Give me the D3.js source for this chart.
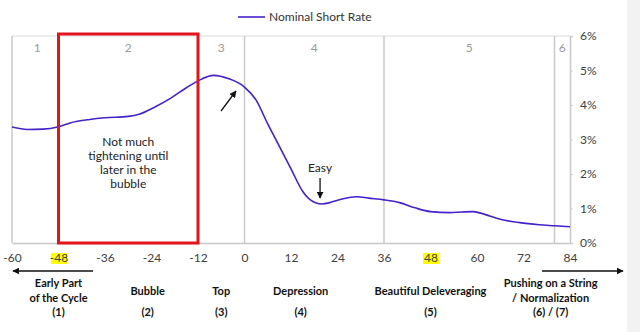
<!DOCTYPE html>
<html>
<head>
<meta charset="utf-8">
<script src="https://cdn.jsdelivr.net/npm/d3@7"></script>
<style>
  html, body { margin: 0; padding: 0; background: #fff; }
  svg { display: block; }
  text { font-family: Lato, "Open Sans", sans-serif; }
</style>
</head>
<body>
<svg id="chart" width="640" height="332"></svg>
<script>
// Months relative to the top of the cycle, and the nominal short rate (%)
const months = [-60,-56,-52,-48,-45,-40,-36,-30,-27,-23,-19,-15,-12,-8,-4,0,3,6,9,12,15,17,20,22,24,27,29,32,36,40,44,48,53,56,59,62,66,71,76,80,84];
const shortRate = [3.36,3.29,3.30,3.37,3.48,3.58,3.63,3.67,3.74,3.95,4.20,4.50,4.70,4.86,4.76,4.52,4.14,3.45,2.80,2.15,1.50,1.25,1.13,1.17,1.24,1.32,1.34,1.30,1.25,1.17,1.02,0.91,0.88,0.90,0.91,0.83,0.69,0.59,0.53,0.50,0.47];

const xTicks = [-60,-48,-36,-24,-12,0,12,24,36,48,60,72,84];
const highlightedTicks = [-48, 48];
const yTicks = [0,1,2,3,4,5,6];

// Phase boundaries (months) and phase numbers placed at their centres
const phaseBounds = [-12, 0, 36, 80];
const phaseNumbers = [
  {label: "1", at: -53.5},
  {label: "2", at: -30},
  {label: "3", at: -6},
  {label: "4", at: 18},
  {label: "5", at: 58},
  {label: "6", at: 82}
];
const bubbleBox = {from: -48, to: -12};
const bubbleNote = ["Not much", "tightening until", "later in the", "bubble"];

// Phase names under the axis
const phaseNames = [
  {lines: ["Early Part", "of the Cycle", "(1)"], at: -48},
  {lines: ["Bubble", "", "(2)"], at: -25},
  {lines: ["Top", "", "(3)"], at: -6},
  {lines: ["Depression", "", "(4)"], at: 14.5},
  {lines: ["Beautiful Deleveraging", "", "(5)"], at: 48},
  {lines: ["Pushing on a String", "/ Normalization", "(6) / (7)"], at: 79}
];

const svg = d3.select("#chart");
const margin = {left: 12, right: 70, top: 36, bottom: 89};
const W = 640, H = 332;

const x = d3.scaleLinear().domain([-60, 84]).range([margin.left, W - margin.right]);
const y = d3.scaleLinear().domain([0, 6]).range([H - margin.bottom, margin.top]);

const lineColor = "#4422cc";
const gridColor = "#c8c8c8";

// thin gray strip at the right edge of the page
svg.append("rect").attr("x", 627).attr("y", 0).attr("width", 13).attr("height", H).attr("fill", "#f2f2f2");

// Arrow marker
const defs = svg.append("defs");
defs.append("marker").attr("id", "arrow").attr("viewBox", "0 0 10 10")
  .attr("refX", 9).attr("refY", 5).attr("markerWidth", 7).attr("markerHeight", 7)
  .attr("markerUnits", "userSpaceOnUse").attr("orient", "auto")
  .append("path").attr("d", "M0,0 L10,5 L0,10 Z").attr("fill", "#111");

// Plot frame: top and left borders
svg.append("line").attr("x1", x(-60)).attr("x2", x(84)).attr("y1", y(6)).attr("y2", y(6))
  .attr("stroke", "#d9d9d9").attr("stroke-width", 1);
svg.append("line").attr("x1", x(-60)).attr("x2", x(-60)).attr("y1", y(6)).attr("y2", y(0))
  .attr("stroke", gridColor).attr("stroke-width", 1.5);

// Phase separators
svg.selectAll(".phase-line").data(phaseBounds).join("line")
  .attr("x1", d => x(d)).attr("x2", d => x(d))
  .attr("y1", y(6)).attr("y2", y(0))
  .attr("stroke", gridColor).attr("stroke-width", 1.5);

// Phase numbers
svg.selectAll(".phase-num").data(phaseNumbers).join("text")
  .attr("x", d => x(d.at)).attr("y", 52)
  .attr("text-anchor", "middle").attr("font-size", 12).attr("fill", "#9a9a9a")
  .text(d => d.label);

// Right-hand y axis
const yAxis = d3.axisRight(y).tickValues(yTicks).tickFormat(d => d + "%").tickSize(3).tickPadding(7);
const yg = svg.append("g").attr("transform", `translate(${x(84)},0)`).call(yAxis);
yg.select(".domain").attr("stroke", gridColor).attr("stroke-width", 1.5);
yg.selectAll(".tick line").attr("stroke", "#d0d0d0");
yg.selectAll(".tick text").attr("font-size", 12).attr("fill", "#404040")
  .attr("font-family", "Lato, 'Open Sans', sans-serif");

// Bottom x axis (plain hyphen for negative months)
const xAxis = d3.axisBottom(x).tickValues(xTicks).tickFormat(d => String(d)).tickSize(0).tickPadding(10);
const xg = svg.append("g").attr("transform", `translate(0,${y(0)})`).call(xAxis);
xg.select(".domain").attr("stroke", gridColor).attr("stroke-width", 1.5);
xg.selectAll(".tick text").attr("font-size", 12).attr("fill", "#404040")
  .attr("font-family", "Lato, 'Open Sans', sans-serif");
xg.selectAll(".tick").filter(d => highlightedTicks.includes(d))
  .insert("rect", "text")
  .attr("x", -8).attr("y", 10).attr("width", 16).attr("height", 11).attr("fill", "#ffff00");

// Short-rate line
const line = d3.line().x((d, i) => x(months[i])).y(d => y(d)).curve(d3.curveMonotoneX);
svg.append("path").datum(shortRate).attr("d", line)
  .attr("fill", "none").attr("stroke", lineColor).attr("stroke-width", 1.6);

// Red box around the bubble phase
svg.append("rect")
  .attr("x", x(bubbleBox.from)).attr("y", y(6) - 2)
  .attr("width", x(bubbleBox.to) - x(bubbleBox.from)).attr("height", y(0) - y(6) + 2)
  .attr("fill", "none").attr("stroke", "#e3141b").attr("stroke-width", 3);

svg.append("text").attr("x", x(-30)).attr("y", 146).attr("text-anchor", "middle")
  .attr("font-size", 12).attr("fill", "#222")
  .selectAll("tspan").data(bubbleNote).join("tspan")
  .attr("x", x(-30)).attr("dy", (d, i) => i === 0 ? 0 : 14).text(d => d);

// Arrow pointing at the top
svg.append("line").attr("x1", 221).attr("y1", 111).attr("x2", 236).attr("y2", 91)
  .attr("stroke", "#111").attr("stroke-width", 1.3).attr("marker-end", "url(#arrow)");

// "Easy" annotation
svg.append("text").attr("x", x(19.5)).attr("y", 172).attr("text-anchor", "middle")
  .attr("font-size", 12).attr("fill", "#222").text("Easy");
svg.append("line").attr("x1", x(19.5)).attr("y1", 178).attr("x2", x(19.5)).attr("y2", 198)
  .attr("stroke", "#111").attr("stroke-width", 1.3).attr("marker-end", "url(#arrow)");

// Arrows under the axis, pointing to earlier and later periods
svg.append("line").attr("x1", 93).attr("y1", 271).attr("x2", 13).attr("y2", 271)
  .attr("stroke", "#111").attr("stroke-width", 1.3).attr("marker-end", "url(#arrow)");
svg.append("line").attr("x1", 542).attr("y1", 271).attr("x2", 623).attr("y2", 271)
  .attr("stroke", "#111").attr("stroke-width", 1.3).attr("marker-end", "url(#arrow)");

// Phase names
const names = svg.selectAll(".phase-name").data(phaseNames).join("text")
  .attr("text-anchor", "middle").attr("font-size", 11).attr("font-weight", "bold").attr("fill", "#111");
names.each(function(d) {
  const t = d3.select(this);
  const single = d.lines[1] === "";
  if (single) {
    t.append("tspan").attr("x", x(d.at)).attr("y", 295).text(d.lines[0]);
    t.append("tspan").attr("x", x(d.at)).attr("y", 316).text(d.lines[2]);
  } else {
    d.lines.forEach((l, i) => {
      t.append("tspan").attr("x", x(d.at)).attr("y", 287 + i * 14.5).text(l);
    });
  }
});

// Legend
svg.append("line").attr("x1", 238).attr("x2", 265).attr("y1", 17).attr("y2", 17)
  .attr("stroke", lineColor).attr("stroke-width", 1.6);
svg.append("text").attr("x", 269).attr("y", 21).attr("font-size", 12).attr("fill", "#333")
  .text("Nominal Short Rate");
</script>
</body>
</html>
